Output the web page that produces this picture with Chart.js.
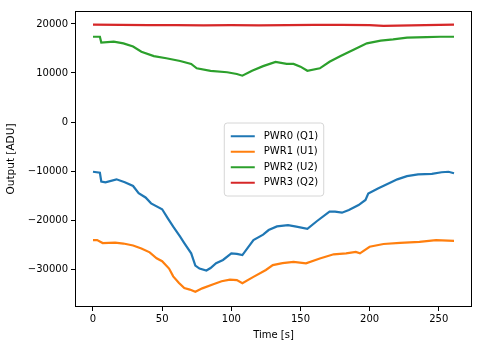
<!DOCTYPE html>
<html>
<head>
<meta charset="utf-8">
<script src="https://cdn.jsdelivr.net/npm/chart.js@4/dist/chart.umd.min.js"></script>
<style>
  html, body { margin: 0; padding: 0; background: #fff; }
  #wrap { width: 483px; height: 347px; }
</style>
</head>
<body>
<div id="wrap"><canvas id="power" width="483" height="347"></canvas></div>
<script>
// readout of the four power channels over the run
const labels = ["PWR0 (Q1)", "PWR1 (U1)", "PWR2 (U2)", "PWR3 (Q2)"];
const colors = ["#1f77b4", "#ff7f0e", "#2ca02c", "#d62728"];

const t0 = [0, 5, 6, 9, 17, 23, 29, 33, 38, 42, 50, 54, 58, 63, 66, 71, 74, 77, 82, 85, 89, 94, 100, 104, 108, 116, 123, 127, 133, 141, 147, 155, 162, 171, 175, 180, 185, 192, 197, 199, 206, 214, 220, 227, 235, 245, 252, 257, 261];
const pwr0 = [-10150, -10350, -12150, -12300, -11700, -12300, -13050, -14500, -15400, -16600, -17800, -19600, -21350, -23400, -24700, -26800, -29300, -29900, -30300, -29800, -28800, -28150, -26800, -26900, -27150, -24100, -23000, -22050, -21300, -21050, -21350, -21800, -20200, -18300, -18300, -18500, -17950, -16950, -15900, -14600, -13550, -12500, -11700, -11050, -10700, -10600, -10250, -10150, -10450];

const t1 = [0, 3, 7, 16, 22, 29, 35, 41, 46, 50, 55, 58, 62, 66, 70, 74, 79, 87, 93, 99, 104, 108, 116, 125, 130, 137, 145, 154, 164, 174, 183, 190, 193, 200, 210, 222, 236, 248, 261];
const pwr1 = [-24100, -24100, -24700, -24600, -24800, -25200, -25800, -26600, -27800, -28400, -29900, -31500, -32800, -33900, -34200, -34650, -33950, -33100, -32500, -32150, -32250, -32900, -31600, -30200, -29200, -28800, -28550, -28850, -27850, -27000, -26800, -26500, -26800, -25450, -24900, -24650, -24450, -24100, -24250];

const t2 = [0, 5, 6, 15, 22, 29, 35, 44, 53, 63, 71, 75, 85, 97, 104, 108, 115, 123, 132, 140, 145, 150, 155, 164, 171, 179, 188, 198, 208, 217, 227, 241, 251, 261];
const pwr2 = [17400, 17400, 16200, 16400, 16050, 15400, 14350, 13450, 13000, 12450, 11850, 10950, 10450, 10150, 9800, 9450, 10450, 11400, 12250, 11850, 11850, 11300, 10450, 10950, 12300, 13450, 14700, 16050, 16600, 16850, 17200, 17300, 17400, 17400];

const t3 = [0, 20, 40, 60, 80, 100, 120, 140, 160, 180, 200, 210, 220, 240, 261];
const pwr3 = [19850, 19800, 19750, 19750, 19700, 19750, 19700, 19750, 19800, 19800, 19750, 19600, 19650, 19750, 19850];

const xTicks = [0, 50, 100, 150, 200, 250];
const yTicks = [-30000, -20000, -10000, 0, 10000, 20000];

const times = [t0, t1, t2, t3];
const values = [pwr0, pwr1, pwr2, pwr3];

const font = { family: "DejaVu Sans", size: 10 };

// axes box drawn on top of the lines, plus a legend placed in the middle of the plot
const frameAndLegend = {
  id: "frameAndLegend",
  afterDatasetsDraw(chart) {
    const { ctx, chartArea: a } = chart;
    ctx.save();
    ctx.strokeStyle = "#000";
    ctx.lineWidth = 1;
    ctx.strokeRect(Math.round(a.left) + 0.5, Math.round(a.top) + 0.5,
      Math.round(a.right - a.left) - 1, Math.round(a.bottom - a.top) - 1);

    const sets = chart.data.datasets;
    const rowH = 15.5, lineLen = 24, pad = 4;
    ctx.font = "10px 'DejaVu Sans'";
    const textW = Math.max(...sets.map(d => ctx.measureText(d.label).width));
    const w = pad + 3 + lineLen + 8 + textW + pad + 2;
    const h = sets.length * rowH + 2 * pad + 3;
    const x = (a.left + a.right) / 2 - w / 2;
    const y = (a.top + a.bottom) / 2 - h / 2;
    ctx.beginPath();
    ctx.roundRect(x + 0.5, y + 0.5, w, h, 3);
    ctx.fillStyle = "rgba(255,255,255,0.8)";
    ctx.fill();
    ctx.strokeStyle = "#d6d6d6";
    ctx.stroke();
    ctx.textBaseline = "middle";
    sets.forEach((d, i) => {
      const ry = y + pad + 5 + rowH * i + rowH / 2 - 3;
      ctx.strokeStyle = d.borderColor;
      ctx.lineWidth = 2;
      ctx.beginPath();
      ctx.moveTo(x + pad + 3, ry);
      ctx.lineTo(x + pad + 3 + lineLen, ry);
      ctx.stroke();
      ctx.fillStyle = "#000";
      ctx.fillText(d.label, x + pad + 3 + lineLen + 9, ry);
    });
    ctx.restore();
  }
};

new Chart(document.getElementById("power"), {
  type: "line",
  data: {
    datasets: labels.map((lab, i) => ({
      label: lab,
      data: times[i].map((t, j) => ({ x: t, y: values[i][j] })),
      borderColor: colors[i],
      backgroundColor: colors[i],
      borderWidth: 2.2,
      pointRadius: 0,
      tension: 0,
      fill: false
    }))
  },
  options: {
    responsive: false,
    animation: false,
    devicePixelRatio: 1,
    layout: { padding: { left: 0, top: 11, right: 11, bottom: 0 } },
    plugins: { legend: { display: false }, tooltip: { enabled: false } },
    scales: {
      x: {
        type: "linear",
        min: -13,
        max: 274,
        afterFit: s => { s.height = 40; },
        afterBuildTicks: s => { s.ticks = xTicks.map(v => ({ value: v })); },
        ticks: { font, color: "#000", padding: 2, maxRotation: 0 },
        grid: { drawOnChartArea: false, drawTicks: true, tickLength: 4, tickColor: "#000", tickWidth: 1 },
        border: { display: false },
        title: { display: true, text: "Time [s]", font, color: "#000", padding: { top: 0, bottom: 6 } }
      },
      y: {
        min: -37750,
        max: 22650,
        afterFit: s => { s.width = 75; },
        afterBuildTicks: s => { s.ticks = yTicks.map(v => ({ value: v })); },
        ticks: { font, color: "#000", padding: 3, callback: v => String(v).replace("-", "\u2212") },
        grid: { drawOnChartArea: false, drawTicks: true, tickLength: 4, tickColor: "#000", tickWidth: 1 },
        border: { display: false },
        title: { display: true, text: "Output [ADU]", font: { family: "DejaVu Sans", size: 10.5 }, color: "#000", padding: { top: 5, bottom: 0 } }
      }
    }
  },
  plugins: [frameAndLegend]
});
</script>
</body>
</html>
